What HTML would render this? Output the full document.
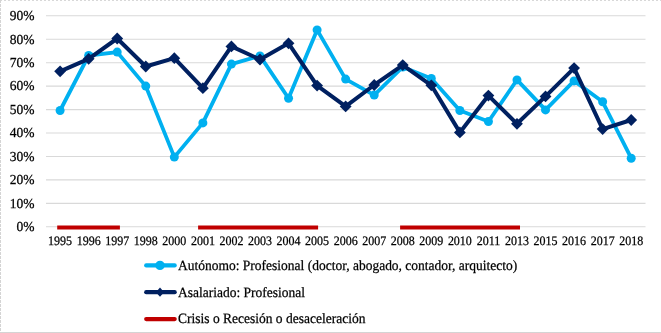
<!DOCTYPE html>
<html><head><meta charset="utf-8"><style>
html,body{margin:0;padding:0;background:#fff;}
svg{display:block;will-change:transform;text-rendering:geometricPrecision;font-family:"Liberation Serif",serif;}
text{fill:#000;stroke:#000;stroke-width:0.25px;}
</style></head><body>
<svg width="661" height="333" viewBox="0 0 661 333">
<line x1="0" y1="0.5" x2="661" y2="0.5" stroke="#d8d8d8" stroke-width="1" stroke-dasharray="2 2"/>
<line x1="0.5" y1="0" x2="0.5" y2="333" stroke="#d4d4d4" stroke-width="1" stroke-dasharray="3 1"/>
<line x1="0" y1="332.5" x2="661" y2="332.5" stroke="#d4d4d4" stroke-width="1"/>
<line x1="46" y1="226.80" x2="645.5" y2="226.80" stroke="#d9d9d9" stroke-width="1.1"/>
<line x1="46" y1="203.36" x2="645.5" y2="203.36" stroke="#d9d9d9" stroke-width="1.1"/>
<line x1="46" y1="179.91" x2="645.5" y2="179.91" stroke="#d9d9d9" stroke-width="1.1"/>
<line x1="46" y1="156.47" x2="645.5" y2="156.47" stroke="#d9d9d9" stroke-width="1.1"/>
<line x1="46" y1="133.02" x2="645.5" y2="133.02" stroke="#d9d9d9" stroke-width="1.1"/>
<line x1="46" y1="109.58" x2="645.5" y2="109.58" stroke="#d9d9d9" stroke-width="1.1"/>
<line x1="46" y1="86.14" x2="645.5" y2="86.14" stroke="#d9d9d9" stroke-width="1.1"/>
<line x1="46" y1="62.69" x2="645.5" y2="62.69" stroke="#d9d9d9" stroke-width="1.1"/>
<line x1="46" y1="39.25" x2="645.5" y2="39.25" stroke="#d9d9d9" stroke-width="1.1"/>
<line x1="46" y1="15.80" x2="645.5" y2="15.80" stroke="#d9d9d9" stroke-width="1.1"/>
<text transform="translate(34.50,231.10) scale(0.9804,1)" font-size="13.77" text-anchor="end">0%</text>
<text transform="translate(34.50,207.66) scale(0.9804,1)" font-size="13.77" text-anchor="end">10%</text>
<text transform="translate(34.50,184.21) scale(0.9804,1)" font-size="13.77" text-anchor="end">20%</text>
<text transform="translate(34.50,160.77) scale(0.9804,1)" font-size="13.77" text-anchor="end">30%</text>
<text transform="translate(34.50,137.32) scale(0.9804,1)" font-size="13.77" text-anchor="end">40%</text>
<text transform="translate(34.50,113.88) scale(0.9804,1)" font-size="13.77" text-anchor="end">50%</text>
<text transform="translate(34.50,90.44) scale(0.9804,1)" font-size="13.77" text-anchor="end">60%</text>
<text transform="translate(34.50,66.99) scale(0.9804,1)" font-size="13.77" text-anchor="end">70%</text>
<text transform="translate(34.50,43.55) scale(0.9804,1)" font-size="13.77" text-anchor="end">80%</text>
<text transform="translate(34.50,20.10) scale(0.9804,1)" font-size="13.77" text-anchor="end">90%</text>
<text transform="translate(60.10,244.80) scale(0.9259,1)" font-size="12.96" text-anchor="middle">1995</text>
<text transform="translate(88.66,244.80) scale(0.9259,1)" font-size="12.96" text-anchor="middle">1996</text>
<text transform="translate(117.21,244.80) scale(0.9259,1)" font-size="12.96" text-anchor="middle">1997</text>
<text transform="translate(145.76,244.80) scale(0.9259,1)" font-size="12.96" text-anchor="middle">1998</text>
<text transform="translate(174.32,244.80) scale(0.9259,1)" font-size="12.96" text-anchor="middle">2000</text>
<text transform="translate(202.88,244.80) scale(0.9259,1)" font-size="12.96" text-anchor="middle">2001</text>
<text transform="translate(231.43,244.80) scale(0.9259,1)" font-size="12.96" text-anchor="middle">2002</text>
<text transform="translate(259.99,244.80) scale(0.9259,1)" font-size="12.96" text-anchor="middle">2003</text>
<text transform="translate(288.54,244.80) scale(0.9259,1)" font-size="12.96" text-anchor="middle">2004</text>
<text transform="translate(317.10,244.80) scale(0.9259,1)" font-size="12.96" text-anchor="middle">2005</text>
<text transform="translate(345.65,244.80) scale(0.9259,1)" font-size="12.96" text-anchor="middle">2006</text>
<text transform="translate(374.21,244.80) scale(0.9259,1)" font-size="12.96" text-anchor="middle">2007</text>
<text transform="translate(402.76,244.80) scale(0.9259,1)" font-size="12.96" text-anchor="middle">2008</text>
<text transform="translate(431.31,244.80) scale(0.9259,1)" font-size="12.96" text-anchor="middle">2009</text>
<text transform="translate(459.87,244.80) scale(0.9259,1)" font-size="12.96" text-anchor="middle">2010</text>
<text transform="translate(488.43,244.80) scale(0.9259,1)" font-size="12.96" text-anchor="middle">2011</text>
<text transform="translate(516.98,244.80) scale(0.9259,1)" font-size="12.96" text-anchor="middle">2013</text>
<text transform="translate(545.53,244.80) scale(0.9259,1)" font-size="12.96" text-anchor="middle">2015</text>
<text transform="translate(574.09,244.80) scale(0.9259,1)" font-size="12.96" text-anchor="middle">2016</text>
<text transform="translate(602.64,244.80) scale(0.9259,1)" font-size="12.96" text-anchor="middle">2017</text>
<text transform="translate(631.20,244.80) scale(0.9259,1)" font-size="12.96" text-anchor="middle">2018</text>
<line x1="57.2" y1="227.5" x2="119.9" y2="227.5" stroke="#C00000" stroke-width="4"/>
<line x1="198.1" y1="227.5" x2="318.1" y2="227.5" stroke="#C00000" stroke-width="4"/>
<line x1="400.1" y1="227.5" x2="520.0" y2="227.5" stroke="#C00000" stroke-width="4"/>
<polyline points="60.10,110.50 88.66,55.50 117.21,52.10 145.76,86.10 174.32,157.10 202.88,122.90 231.43,64.10 259.99,55.90 288.54,98.20 317.10,29.90 345.65,79.10 374.21,95.10 402.76,67.00 431.31,78.50 459.87,110.50 488.43,121.50 516.98,79.90 545.53,109.90 574.09,80.90 602.64,101.80 631.20,158.20" fill="none" stroke="#00B0F0" stroke-width="3.8" stroke-linejoin="round"/>
<circle cx="60.10" cy="110.50" r="4.5" fill="#00B0F0"/>
<circle cx="88.66" cy="55.50" r="4.5" fill="#00B0F0"/>
<circle cx="117.21" cy="52.10" r="4.5" fill="#00B0F0"/>
<circle cx="145.76" cy="86.10" r="4.5" fill="#00B0F0"/>
<circle cx="174.32" cy="157.10" r="4.5" fill="#00B0F0"/>
<circle cx="202.88" cy="122.90" r="4.5" fill="#00B0F0"/>
<circle cx="231.43" cy="64.10" r="4.5" fill="#00B0F0"/>
<circle cx="259.99" cy="55.90" r="4.5" fill="#00B0F0"/>
<circle cx="288.54" cy="98.20" r="4.5" fill="#00B0F0"/>
<circle cx="317.10" cy="29.90" r="4.5" fill="#00B0F0"/>
<circle cx="345.65" cy="79.10" r="4.5" fill="#00B0F0"/>
<circle cx="374.21" cy="95.10" r="4.5" fill="#00B0F0"/>
<circle cx="402.76" cy="67.00" r="4.5" fill="#00B0F0"/>
<circle cx="431.31" cy="78.50" r="4.5" fill="#00B0F0"/>
<circle cx="459.87" cy="110.50" r="4.5" fill="#00B0F0"/>
<circle cx="488.43" cy="121.50" r="4.5" fill="#00B0F0"/>
<circle cx="516.98" cy="79.90" r="4.5" fill="#00B0F0"/>
<circle cx="545.53" cy="109.90" r="4.5" fill="#00B0F0"/>
<circle cx="574.09" cy="80.90" r="4.5" fill="#00B0F0"/>
<circle cx="602.64" cy="101.80" r="4.5" fill="#00B0F0"/>
<circle cx="631.20" cy="158.20" r="4.5" fill="#00B0F0"/>
<polyline points="60.10,71.30 88.66,58.80 117.21,38.50 145.76,66.50 174.32,58.20 202.88,88.20 231.43,46.40 259.99,59.50 288.54,43.30 317.10,85.60 345.65,106.40 374.21,85.00 402.76,65.10 431.31,85.30 459.87,132.40 488.43,95.60 516.98,123.80 545.53,96.40 574.09,68.10 602.64,129.10 631.20,120.00" fill="none" stroke="#002060" stroke-width="4.0" stroke-linejoin="round"/>
<path d="M60.10,65.40 L66.00,71.30 L60.10,77.20 L54.20,71.30 Z" fill="#002060"/>
<path d="M88.66,52.90 L94.56,58.80 L88.66,64.70 L82.75,58.80 Z" fill="#002060"/>
<path d="M117.21,32.60 L123.11,38.50 L117.21,44.40 L111.31,38.50 Z" fill="#002060"/>
<path d="M145.76,60.60 L151.66,66.50 L145.76,72.40 L139.86,66.50 Z" fill="#002060"/>
<path d="M174.32,52.30 L180.22,58.20 L174.32,64.10 L168.42,58.20 Z" fill="#002060"/>
<path d="M202.88,82.30 L208.78,88.20 L202.88,94.10 L196.97,88.20 Z" fill="#002060"/>
<path d="M231.43,40.50 L237.33,46.40 L231.43,52.30 L225.53,46.40 Z" fill="#002060"/>
<path d="M259.99,53.60 L265.88,59.50 L259.99,65.40 L254.09,59.50 Z" fill="#002060"/>
<path d="M288.54,37.40 L294.44,43.30 L288.54,49.20 L282.64,43.30 Z" fill="#002060"/>
<path d="M317.10,79.70 L323.00,85.60 L317.10,91.50 L311.20,85.60 Z" fill="#002060"/>
<path d="M345.65,100.50 L351.55,106.40 L345.65,112.30 L339.75,106.40 Z" fill="#002060"/>
<path d="M374.21,79.10 L380.11,85.00 L374.21,90.90 L368.31,85.00 Z" fill="#002060"/>
<path d="M402.76,59.20 L408.66,65.10 L402.76,71.00 L396.86,65.10 Z" fill="#002060"/>
<path d="M431.31,79.40 L437.21,85.30 L431.31,91.20 L425.42,85.30 Z" fill="#002060"/>
<path d="M459.87,126.50 L465.77,132.40 L459.87,138.30 L453.97,132.40 Z" fill="#002060"/>
<path d="M488.43,89.70 L494.32,95.60 L488.43,101.50 L482.53,95.60 Z" fill="#002060"/>
<path d="M516.98,117.90 L522.88,123.80 L516.98,129.70 L511.08,123.80 Z" fill="#002060"/>
<path d="M545.53,90.50 L551.43,96.40 L545.53,102.30 L539.63,96.40 Z" fill="#002060"/>
<path d="M574.09,62.20 L579.99,68.10 L574.09,74.00 L568.19,68.10 Z" fill="#002060"/>
<path d="M602.64,123.20 L608.54,129.10 L602.64,135.00 L596.75,129.10 Z" fill="#002060"/>
<path d="M631.20,114.10 L637.10,120.00 L631.20,125.90 L625.30,120.00 Z" fill="#002060"/>
<line x1="146.2" y1="265.4" x2="174.7" y2="265.4" stroke="#00B0F0" stroke-width="4.2" stroke-linecap="round"/>
<circle cx="160" cy="265.4" r="4.7" fill="#00B0F0"/>
<text transform="translate(178.00,269.70) scale(0.9524,1)" font-size="14.18">Autónomo: Profesional (doctor, abogado, contador, arquitecto)</text>
<line x1="146.2" y1="292.2" x2="174.7" y2="292.2" stroke="#002060" stroke-width="4.2" stroke-linecap="round"/>
<path d="M160,287.6 L164.1,292.2 L160,296.8 L155.9,292.2 Z" fill="#002060"/>
<text transform="translate(178.00,296.50) scale(0.9524,1)" font-size="14.18">Asalariado: Profesional</text>
<line x1="146.2" y1="319.1" x2="174.7" y2="319.1" stroke="#C00000" stroke-width="4.2" stroke-linecap="round"/>
<text transform="translate(178.00,323.40) scale(0.9524,1)" font-size="14.18">Crisis o Recesión o desaceleración</text>
</svg>
</body></html>
